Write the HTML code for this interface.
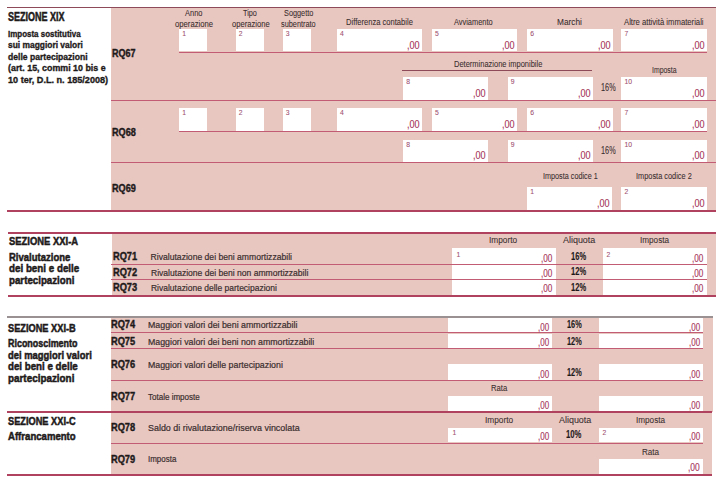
<!DOCTYPE html>
<html><head><meta charset="utf-8"><style>
html,body{margin:0;padding:0;background:#fff;width:719px;height:482px;overflow:hidden}
body>div{position:absolute}
.n,.b{font-family:'Liberation Sans', sans-serif;line-height:20px;white-space:nowrap;transform-origin:0 0}
.n{font-weight:normal;-webkit-text-stroke:0.2px}
.b{font-weight:bold;-webkit-text-stroke:0.4px}
</style></head><body>
<div style="left:111.00px;top:7.00px;width:605.00px;height:204.00px;background:#e9c7c1"></div>
<div style="left:7.00px;top:6.80px;width:709.00px;height:1.20px;background:#8e4a58"></div>
<div style="left:179.00px;top:28.70px;width:28.00px;height:22.80px;background:#ffffff"></div>
<div style="left:235.50px;top:28.70px;width:28.50px;height:22.80px;background:#ffffff"></div>
<div style="left:282.50px;top:28.70px;width:28.80px;height:22.80px;background:#ffffff"></div>
<div style="left:336.70px;top:28.70px;width:85.30px;height:22.80px;background:#ffffff"></div>
<div style="left:431.70px;top:28.70px;width:85.00px;height:22.80px;background:#ffffff"></div>
<div style="left:527.00px;top:28.70px;width:85.50px;height:22.80px;background:#ffffff"></div>
<div style="left:621.30px;top:28.70px;width:85.70px;height:22.80px;background:#ffffff"></div>
<div style="left:179.00px;top:52.00px;width:528.00px;height:1.30px;background:#c25c74"></div>
<div style="left:179.00px;top:107.50px;width:28.00px;height:23.00px;background:#ffffff"></div>
<div style="left:235.50px;top:107.50px;width:28.50px;height:23.00px;background:#ffffff"></div>
<div style="left:282.50px;top:107.50px;width:28.80px;height:23.00px;background:#ffffff"></div>
<div style="left:336.70px;top:107.50px;width:85.30px;height:23.00px;background:#ffffff"></div>
<div style="left:431.70px;top:107.50px;width:85.00px;height:23.00px;background:#ffffff"></div>
<div style="left:527.00px;top:107.50px;width:85.50px;height:23.00px;background:#ffffff"></div>
<div style="left:621.30px;top:107.50px;width:85.70px;height:23.00px;background:#ffffff"></div>
<div style="left:179.00px;top:131.00px;width:528.00px;height:1.30px;background:#c25c74"></div>
<div style="left:402.00px;top:70.30px;width:190.00px;height:1.00px;background:#8e4a58"></div>
<div style="left:403.00px;top:76.70px;width:85.00px;height:23.00px;background:#ffffff"></div>
<div style="left:507.50px;top:76.70px;width:85.00px;height:23.00px;background:#ffffff"></div>
<div style="left:621.30px;top:76.70px;width:85.70px;height:23.00px;background:#ffffff"></div>
<div style="left:403.00px;top:139.50px;width:85.00px;height:22.30px;background:#ffffff"></div>
<div style="left:507.50px;top:139.50px;width:85.00px;height:22.30px;background:#ffffff"></div>
<div style="left:621.30px;top:139.50px;width:85.70px;height:22.30px;background:#ffffff"></div>
<div style="left:111.00px;top:99.60px;width:605.00px;height:1.40px;background:#c25c74"></div>
<div style="left:111.00px;top:162.00px;width:605.00px;height:1.40px;background:#c25c74"></div>
<div style="left:527.00px;top:186.50px;width:85.00px;height:23.10px;background:#ffffff"></div>
<div style="left:621.40px;top:186.50px;width:85.60px;height:23.10px;background:#ffffff"></div>
<div style="left:7.00px;top:210.00px;width:709.00px;height:2.00px;background:#b0425f"></div>
<div style="left:112.00px;top:233.00px;width:604.00px;height:63.00px;background:#e9c7c1"></div>
<div style="left:8.00px;top:232.00px;width:708.00px;height:2.00px;background:#b0425f"></div>
<div style="left:452.00px;top:248.30px;width:103.80px;height:46.70px;background:#ffffff"></div>
<div style="left:602.50px;top:248.30px;width:104.20px;height:46.70px;background:#ffffff"></div>
<div style="left:111.00px;top:263.60px;width:596.00px;height:1.40px;background:#c25c74"></div>
<div style="left:111.00px;top:279.00px;width:596.00px;height:1.40px;background:#c25c74"></div>
<div style="left:8.00px;top:295.00px;width:708.00px;height:2.00px;background:#b0425f"></div>
<div style="left:111.00px;top:317.00px;width:601.50px;height:95.00px;background:#e9c7c1"></div>
<div style="left:7.00px;top:316.40px;width:705.50px;height:1.30px;background:#9a9292"></div>
<div style="left:448.30px;top:317.60px;width:103.40px;height:15.10px;background:#ffffff"></div>
<div style="left:598.70px;top:317.60px;width:104.30px;height:15.10px;background:#ffffff"></div>
<div style="left:448.30px;top:333.80px;width:103.40px;height:14.90px;background:#ffffff"></div>
<div style="left:598.70px;top:333.80px;width:104.30px;height:14.90px;background:#ffffff"></div>
<div style="left:448.30px;top:364.20px;width:103.40px;height:15.50px;background:#ffffff"></div>
<div style="left:598.70px;top:364.20px;width:104.30px;height:15.50px;background:#ffffff"></div>
<div style="left:448.30px;top:395.80px;width:103.40px;height:15.50px;background:#ffffff"></div>
<div style="left:598.70px;top:395.80px;width:104.30px;height:15.50px;background:#ffffff"></div>
<div style="left:111.00px;top:332.20px;width:592.00px;height:1.30px;background:#c25c74"></div>
<div style="left:111.00px;top:348.00px;width:592.00px;height:1.30px;background:#c25c74"></div>
<div style="left:111.00px;top:379.50px;width:592.00px;height:1.30px;background:#c25c74"></div>
<div style="left:111.00px;top:412.00px;width:601.00px;height:63.00px;background:#e9c7c1"></div>
<div style="left:7.00px;top:411.00px;width:705.00px;height:2.00px;background:#b0425f"></div>
<div style="left:448.30px;top:427.50px;width:103.40px;height:14.70px;background:#ffffff"></div>
<div style="left:598.70px;top:427.50px;width:104.30px;height:14.70px;background:#ffffff"></div>
<div style="left:111.00px;top:442.50px;width:592.00px;height:1.30px;background:#c25c74"></div>
<div style="left:598.70px;top:458.70px;width:104.30px;height:15.30px;background:#ffffff"></div>
<div style="left:7.00px;top:474.00px;width:705.00px;height:2.00px;background:#b0425f"></div>
<div class="b" style="left:7.90px;top:6.80px;font-size:12.3px;color:#1e1a1a;transform:scaleX(0.7321);-webkit-text-stroke:0.5px">SEZIONE XIX</div>
<div class="b" style="left:7.80px;top:23.60px;font-size:9.7px;color:#1e1a1a;transform:scaleX(0.8225);-webkit-text-stroke:0.35px">Imposta sostitutiva</div>
<div class="b" style="left:7.80px;top:35.15px;font-size:9.7px;color:#1e1a1a;transform:scaleX(0.8686);-webkit-text-stroke:0.35px">sui maggiori valori</div>
<div class="b" style="left:7.80px;top:46.70px;font-size:9.7px;color:#1e1a1a;transform:scaleX(0.8856);-webkit-text-stroke:0.35px">delle partecipazioni</div>
<div class="b" style="left:7.80px;top:58.25px;font-size:9.7px;color:#1e1a1a;transform:scaleX(0.9159);-webkit-text-stroke:0.35px">(art. 15, commi 10 bis e</div>
<div class="b" style="left:7.80px;top:69.80px;font-size:9.7px;color:#1e1a1a;transform:scaleX(0.9393);-webkit-text-stroke:0.35px">10 ter, D.L. n. 185/2008)</div>
<div class="b" style="left:112.00px;top:43.90px;font-size:10.2px;color:#1e1a1a;transform:scaleX(0.8815)">RQ67</div>
<div class="b" style="left:111.70px;top:122.50px;font-size:10.2px;color:#1e1a1a;transform:scaleX(0.8926)">RQ68</div>
<div class="b" style="left:111.50px;top:179.00px;font-size:10.2px;color:#1e1a1a;transform:scaleX(0.8926)">RQ69</div>
<div class="n" style="left:184.80px;top:3.10px;font-size:8.3px;color:#3b2f2f;transform:scaleX(0.9000);-webkit-text-stroke:0.08px">Anno</div>
<div class="n" style="left:174.80px;top:13.80px;font-size:8.3px;color:#3b2f2f;transform:scaleX(0.9268);-webkit-text-stroke:0.08px">operazione</div>
<div class="n" style="left:243.40px;top:3.10px;font-size:8.3px;color:#3b2f2f;transform:scaleX(0.8750);-webkit-text-stroke:0.08px">Tipo</div>
<div class="n" style="left:231.60px;top:13.80px;font-size:8.3px;color:#3b2f2f;transform:scaleX(0.9171);-webkit-text-stroke:0.08px">operazione</div>
<div class="n" style="left:283.60px;top:3.10px;font-size:8.3px;color:#3b2f2f;transform:scaleX(0.8824);-webkit-text-stroke:0.08px">Soggetto</div>
<div class="n" style="left:280.90px;top:13.80px;font-size:8.3px;color:#3b2f2f;transform:scaleX(0.8850);-webkit-text-stroke:0.08px">subentrato</div>
<div class="n" style="left:345.80px;top:11.70px;font-size:8.3px;color:#3b2f2f;transform:scaleX(0.9137);-webkit-text-stroke:0.08px">Differenza contabile</div>
<div class="n" style="left:454.00px;top:11.70px;font-size:8.3px;color:#3b2f2f;transform:scaleX(0.8932);-webkit-text-stroke:0.08px">Avviamento</div>
<div class="n" style="left:557.00px;top:11.70px;font-size:8.3px;color:#3b2f2f;-webkit-text-stroke:0.08px">Marchi</div>
<div class="n" style="left:624.20px;top:11.70px;font-size:8.3px;color:#3b2f2f;transform:scaleX(0.9279);-webkit-text-stroke:0.08px">Altre attività immateriali</div>
<div class="n" style="left:454.00px;top:53.70px;font-size:8.3px;color:#3b2f2f;transform:scaleX(0.9031);-webkit-text-stroke:0.08px">Determinazione imponibile</div>
<div class="n" style="left:651.70px;top:59.80px;font-size:8.3px;color:#3b2f2f;transform:scaleX(0.8333);-webkit-text-stroke:0.08px">Imposta</div>
<div class="n" style="left:543.00px;top:165.70px;font-size:8.3px;color:#3b2f2f;transform:scaleX(0.8730);-webkit-text-stroke:0.08px">Imposta codice 1</div>
<div class="n" style="left:636.30px;top:165.90px;font-size:8.3px;color:#3b2f2f;transform:scaleX(0.8889);-webkit-text-stroke:0.08px">Imposta codice 2</div>
<div class="n" style="left:182.20px;top:23.80px;font-size:6.8px;color:#a05070;-webkit-text-stroke:0.08px">1</div>
<div class="n" style="left:238.70px;top:23.80px;font-size:6.8px;color:#a05070;-webkit-text-stroke:0.08px">2</div>
<div class="n" style="left:285.70px;top:23.80px;font-size:6.8px;color:#a05070;-webkit-text-stroke:0.08px">3</div>
<div class="n" style="left:339.90px;top:23.80px;font-size:6.8px;color:#a05070;-webkit-text-stroke:0.08px">4</div>
<div class="n" style="left:407.20px;top:34.70px;font-size:10.6px;color:#a8385c;transform:scaleX(0.8533);-webkit-text-stroke:0.15px">,00</div>
<div class="n" style="left:434.90px;top:23.80px;font-size:6.8px;color:#a05070;-webkit-text-stroke:0.08px">5</div>
<div class="n" style="left:501.90px;top:34.70px;font-size:10.6px;color:#a8385c;transform:scaleX(0.8533);-webkit-text-stroke:0.15px">,00</div>
<div class="n" style="left:530.20px;top:23.80px;font-size:6.8px;color:#a05070;-webkit-text-stroke:0.08px">6</div>
<div class="n" style="left:597.70px;top:34.70px;font-size:10.6px;color:#a8385c;transform:scaleX(0.8533);-webkit-text-stroke:0.15px">,00</div>
<div class="n" style="left:624.50px;top:23.80px;font-size:6.8px;color:#a05070;-webkit-text-stroke:0.08px">7</div>
<div class="n" style="left:692.20px;top:34.70px;font-size:10.6px;color:#a8385c;transform:scaleX(0.8533);-webkit-text-stroke:0.15px">,00</div>
<div class="n" style="left:182.20px;top:102.60px;font-size:6.8px;color:#a05070;-webkit-text-stroke:0.08px">1</div>
<div class="n" style="left:238.70px;top:102.60px;font-size:6.8px;color:#a05070;-webkit-text-stroke:0.08px">2</div>
<div class="n" style="left:285.70px;top:102.60px;font-size:6.8px;color:#a05070;-webkit-text-stroke:0.08px">3</div>
<div class="n" style="left:339.90px;top:102.60px;font-size:6.8px;color:#a05070;-webkit-text-stroke:0.08px">4</div>
<div class="n" style="left:407.20px;top:113.70px;font-size:10.6px;color:#a8385c;transform:scaleX(0.8533);-webkit-text-stroke:0.15px">,00</div>
<div class="n" style="left:434.90px;top:102.60px;font-size:6.8px;color:#a05070;-webkit-text-stroke:0.08px">5</div>
<div class="n" style="left:501.90px;top:113.70px;font-size:10.6px;color:#a8385c;transform:scaleX(0.8533);-webkit-text-stroke:0.15px">,00</div>
<div class="n" style="left:530.20px;top:102.60px;font-size:6.8px;color:#a05070;-webkit-text-stroke:0.08px">6</div>
<div class="n" style="left:597.70px;top:113.70px;font-size:10.6px;color:#a8385c;transform:scaleX(0.8533);-webkit-text-stroke:0.15px">,00</div>
<div class="n" style="left:624.50px;top:102.60px;font-size:6.8px;color:#a05070;-webkit-text-stroke:0.08px">7</div>
<div class="n" style="left:692.20px;top:113.70px;font-size:10.6px;color:#a8385c;transform:scaleX(0.8533);-webkit-text-stroke:0.15px">,00</div>
<div class="n" style="left:406.20px;top:71.80px;font-size:6.8px;color:#a05070;-webkit-text-stroke:0.08px">8</div>
<div class="n" style="left:473.20px;top:82.90px;font-size:10.6px;color:#a8385c;transform:scaleX(0.8533);-webkit-text-stroke:0.15px">,00</div>
<div class="n" style="left:510.70px;top:71.80px;font-size:6.8px;color:#a05070;-webkit-text-stroke:0.08px">9</div>
<div class="n" style="left:577.70px;top:82.90px;font-size:10.6px;color:#a8385c;transform:scaleX(0.8533);-webkit-text-stroke:0.15px">,00</div>
<div class="n" style="left:624.50px;top:71.80px;font-size:6.8px;color:#a05070;-webkit-text-stroke:0.08px">10</div>
<div class="n" style="left:692.20px;top:82.90px;font-size:10.6px;color:#a8385c;transform:scaleX(0.8533);-webkit-text-stroke:0.15px">,00</div>
<div class="n" style="left:601.10px;top:76.80px;font-size:10.8px;color:#3b2f2f;transform:scaleX(0.6773);-webkit-text-stroke:0.1px">16%</div>
<div class="n" style="left:406.20px;top:134.60px;font-size:6.8px;color:#a05070;-webkit-text-stroke:0.08px">8</div>
<div class="n" style="left:473.20px;top:145.00px;font-size:10.6px;color:#a8385c;transform:scaleX(0.8533);-webkit-text-stroke:0.15px">,00</div>
<div class="n" style="left:510.70px;top:134.60px;font-size:6.8px;color:#a05070;-webkit-text-stroke:0.08px">9</div>
<div class="n" style="left:577.70px;top:145.00px;font-size:10.6px;color:#a8385c;transform:scaleX(0.8533);-webkit-text-stroke:0.15px">,00</div>
<div class="n" style="left:624.50px;top:134.60px;font-size:6.8px;color:#a05070;-webkit-text-stroke:0.08px">10</div>
<div class="n" style="left:692.20px;top:145.00px;font-size:10.6px;color:#a8385c;transform:scaleX(0.8533);-webkit-text-stroke:0.15px">,00</div>
<div class="n" style="left:601.10px;top:139.60px;font-size:10.8px;color:#3b2f2f;transform:scaleX(0.6773);-webkit-text-stroke:0.1px">16%</div>
<div class="n" style="left:530.20px;top:181.60px;font-size:6.8px;color:#a05070;-webkit-text-stroke:0.08px">1</div>
<div class="n" style="left:597.20px;top:192.80px;font-size:10.6px;color:#a8385c;transform:scaleX(0.8533);-webkit-text-stroke:0.15px">,00</div>
<div class="n" style="left:624.60px;top:181.60px;font-size:6.8px;color:#a05070;-webkit-text-stroke:0.08px">2</div>
<div class="n" style="left:692.20px;top:192.80px;font-size:10.6px;color:#a8385c;transform:scaleX(0.8533);-webkit-text-stroke:0.15px">,00</div>
<div class="b" style="left:9.00px;top:231.30px;font-size:11.3px;color:#1e1a1a;transform:scaleX(0.8349);-webkit-text-stroke:0.5px">SEZIONE XXI-A</div>
<div class="b" style="left:8.80px;top:246.80px;font-size:10.9px;color:#1e1a1a;transform:scaleX(0.8732);-webkit-text-stroke:0.5px">Rivalutazione</div>
<div class="b" style="left:8.80px;top:258.30px;font-size:10.9px;color:#1e1a1a;transform:scaleX(0.9000);-webkit-text-stroke:0.5px">dei beni e delle</div>
<div class="b" style="left:8.80px;top:269.80px;font-size:10.9px;color:#1e1a1a;transform:scaleX(0.8932);-webkit-text-stroke:0.5px">partecipazioni</div>
<div class="n" style="left:489.00px;top:230.00px;font-size:8.3px;color:#3b2f2f;-webkit-text-stroke:0.08px">Importo</div>
<div class="n" style="left:563.00px;top:230.00px;font-size:8.3px;color:#3b2f2f;transform:scaleX(1.0767);-webkit-text-stroke:0.08px">Aliquota</div>
<div class="n" style="left:639.70px;top:230.00px;font-size:8.3px;color:#3b2f2f;transform:scaleX(0.9833);-webkit-text-stroke:0.08px">Imposta</div>
<div class="n" style="left:456.50px;top:244.60px;font-size:6.8px;color:#a05070;-webkit-text-stroke:0.08px">1</div>
<div class="n" style="left:606.50px;top:244.60px;font-size:6.8px;color:#a05070;-webkit-text-stroke:0.08px">2</div>
<div class="b" style="left:113.00px;top:247.30px;font-size:10.2px;color:#1e1a1a;transform:scaleX(0.9074)">RQ71</div>
<div class="n" style="left:150.60px;top:247.30px;font-size:8.6px;color:#3b2f2f">Rivalutazione dei beni ammortizzabili</div>
<div class="n" style="left:541.00px;top:248.50px;font-size:10.3px;color:#a8385c;transform:scaleX(0.7933);-webkit-text-stroke:0.15px">,00</div>
<div class="n" style="left:692.10px;top:248.50px;font-size:10.3px;color:#a8385c;transform:scaleX(0.7933);-webkit-text-stroke:0.15px">,00</div>
<div class="b" style="left:570.80px;top:246.10px;font-size:10.8px;color:#1e1a1a;transform:scaleX(0.7000);-webkit-text-stroke:0.12px">16%</div>
<div class="b" style="left:113.00px;top:262.60px;font-size:10.2px;color:#1e1a1a;transform:scaleX(0.9074)">RQ72</div>
<div class="n" style="left:150.60px;top:262.60px;font-size:8.6px;color:#3b2f2f;transform:scaleX(0.9950)">Rivalutazione dei beni non ammortizzabili</div>
<div class="n" style="left:541.00px;top:263.80px;font-size:10.3px;color:#a8385c;transform:scaleX(0.7933);-webkit-text-stroke:0.15px">,00</div>
<div class="n" style="left:692.10px;top:263.80px;font-size:10.3px;color:#a8385c;transform:scaleX(0.7933);-webkit-text-stroke:0.15px">,00</div>
<div class="b" style="left:570.80px;top:261.40px;font-size:10.8px;color:#1e1a1a;transform:scaleX(0.7000);-webkit-text-stroke:0.12px">12%</div>
<div class="b" style="left:113.00px;top:277.90px;font-size:10.2px;color:#1e1a1a;transform:scaleX(0.9074)">RQ73</div>
<div class="n" style="left:150.60px;top:277.90px;font-size:8.6px;color:#3b2f2f;transform:scaleX(0.9867)">Rivalutazione delle partecipazioni</div>
<div class="n" style="left:541.00px;top:279.10px;font-size:10.3px;color:#a8385c;transform:scaleX(0.7933);-webkit-text-stroke:0.15px">,00</div>
<div class="n" style="left:692.10px;top:279.10px;font-size:10.3px;color:#a8385c;transform:scaleX(0.7933);-webkit-text-stroke:0.15px">,00</div>
<div class="b" style="left:570.80px;top:276.70px;font-size:10.8px;color:#1e1a1a;transform:scaleX(0.7000);-webkit-text-stroke:0.12px">12%</div>
<div class="b" style="left:8.00px;top:317.70px;font-size:11.3px;color:#1e1a1a;transform:scaleX(0.8169);-webkit-text-stroke:0.5px">SEZIONE XXI-B</div>
<div class="b" style="left:7.80px;top:333.20px;font-size:10.9px;color:#1e1a1a;transform:scaleX(0.8200);-webkit-text-stroke:0.5px">Riconoscimento</div>
<div class="b" style="left:7.80px;top:344.80px;font-size:10.9px;color:#1e1a1a;transform:scaleX(0.8649);-webkit-text-stroke:0.5px">dei maggiori valori</div>
<div class="b" style="left:7.80px;top:356.40px;font-size:10.9px;color:#1e1a1a;transform:scaleX(0.8936);-webkit-text-stroke:0.5px">dei beni e delle</div>
<div class="b" style="left:7.80px;top:368.00px;font-size:10.9px;color:#1e1a1a;transform:scaleX(0.9068);-webkit-text-stroke:0.5px">partecipazioni</div>
<div class="b" style="left:111.30px;top:314.90px;font-size:10.2px;color:#1e1a1a;transform:scaleX(0.9074)">RQ74</div>
<div class="n" style="left:148.30px;top:314.90px;font-size:8.6px;color:#3b2f2f;transform:scaleX(1.0253)">Maggiori valori dei beni ammortizzabili</div>
<div class="n" style="left:537.60px;top:316.70px;font-size:10.5px;color:#a8385c;transform:scaleX(0.7600);-webkit-text-stroke:0.15px">,00</div>
<div class="n" style="left:688.80px;top:316.70px;font-size:10.5px;color:#a8385c;transform:scaleX(0.7600);-webkit-text-stroke:0.15px">,00</div>
<div class="b" style="left:567.00px;top:314.10px;font-size:10.8px;color:#1e1a1a;transform:scaleX(0.6818);-webkit-text-stroke:0.12px">16%</div>
<div class="b" style="left:111.30px;top:331.60px;font-size:10.2px;color:#1e1a1a;transform:scaleX(0.9074)">RQ75</div>
<div class="n" style="left:148.30px;top:331.60px;font-size:8.6px;color:#3b2f2f;transform:scaleX(1.0239)">Maggiori valori dei beni non ammortizzabili</div>
<div class="n" style="left:537.60px;top:332.40px;font-size:10.5px;color:#a8385c;transform:scaleX(0.7600);-webkit-text-stroke:0.15px">,00</div>
<div class="n" style="left:688.80px;top:332.40px;font-size:10.5px;color:#a8385c;transform:scaleX(0.7600);-webkit-text-stroke:0.15px">,00</div>
<div class="b" style="left:567.00px;top:330.80px;font-size:10.8px;color:#1e1a1a;transform:scaleX(0.6818);-webkit-text-stroke:0.12px">12%</div>
<div class="b" style="left:111.30px;top:355.10px;font-size:10.2px;color:#1e1a1a;transform:scaleX(0.9074)">RQ76</div>
<div class="n" style="left:148.30px;top:355.10px;font-size:8.6px;color:#3b2f2f;transform:scaleX(1.0227)">Maggiori valori delle partecipazioni</div>
<div class="n" style="left:537.60px;top:363.60px;font-size:10.5px;color:#a8385c;transform:scaleX(0.7600);-webkit-text-stroke:0.15px">,00</div>
<div class="n" style="left:688.80px;top:363.60px;font-size:10.5px;color:#a8385c;transform:scaleX(0.7600);-webkit-text-stroke:0.15px">,00</div>
<div class="b" style="left:567.00px;top:361.60px;font-size:10.8px;color:#1e1a1a;transform:scaleX(0.6818);-webkit-text-stroke:0.12px">12%</div>
<div class="b" style="left:111.30px;top:386.50px;font-size:10.2px;color:#1e1a1a;transform:scaleX(0.9074)">RQ77</div>
<div class="n" style="left:148.30px;top:386.50px;font-size:8.6px;color:#3b2f2f;transform:scaleX(0.9339)">Totale imposte</div>
<div class="n" style="left:537.60px;top:395.20px;font-size:10.5px;color:#a8385c;transform:scaleX(0.7600);-webkit-text-stroke:0.15px">,00</div>
<div class="n" style="left:688.80px;top:395.20px;font-size:10.5px;color:#a8385c;transform:scaleX(0.7600);-webkit-text-stroke:0.15px">,00</div>
<div class="n" style="left:491.30px;top:378.30px;font-size:8.3px;color:#3b2f2f;transform:scaleX(0.9278);-webkit-text-stroke:0.08px">Rata</div>
<div class="b" style="left:8.00px;top:411.00px;font-size:11.3px;color:#1e1a1a;transform:scaleX(0.8169);-webkit-text-stroke:0.5px">SEZIONE XXI-C</div>
<div class="b" style="left:8.00px;top:426.00px;font-size:10.9px;color:#1e1a1a;transform:scaleX(0.8805);-webkit-text-stroke:0.5px">Affrancamento</div>
<div class="n" style="left:485.00px;top:409.50px;font-size:8.3px;color:#3b2f2f;-webkit-text-stroke:0.08px">Importo</div>
<div class="n" style="left:559.00px;top:409.50px;font-size:8.3px;color:#3b2f2f;transform:scaleX(1.0767);-webkit-text-stroke:0.08px">Aliquota</div>
<div class="n" style="left:635.70px;top:410.20px;font-size:8.3px;color:#3b2f2f;transform:scaleX(0.9833);-webkit-text-stroke:0.08px">Imposta</div>
<div class="n" style="left:452.50px;top:422.80px;font-size:6.8px;color:#a05070;-webkit-text-stroke:0.08px">1</div>
<div class="n" style="left:602.50px;top:422.80px;font-size:6.8px;color:#a05070;-webkit-text-stroke:0.08px">2</div>
<div class="b" style="left:111.30px;top:418.30px;font-size:10.2px;color:#1e1a1a;transform:scaleX(0.9074)">RQ78</div>
<div class="n" style="left:148.30px;top:417.90px;font-size:8.6px;color:#3b2f2f;transform:scaleX(1.0374)">Saldo di rivalutazione/riserva vincolata</div>
<div class="n" style="left:537.50px;top:425.90px;font-size:10.5px;color:#a8385c;transform:scaleX(0.7667);-webkit-text-stroke:0.15px">,00</div>
<div class="n" style="left:688.70px;top:425.90px;font-size:10.5px;color:#a8385c;transform:scaleX(0.7667);-webkit-text-stroke:0.15px">,00</div>
<div class="b" style="left:566.30px;top:424.30px;font-size:10.8px;color:#1e1a1a;transform:scaleX(0.7136);-webkit-text-stroke:0.12px">10%</div>
<div class="b" style="left:111.30px;top:449.50px;font-size:10.2px;color:#1e1a1a;transform:scaleX(0.9074)">RQ79</div>
<div class="n" style="left:148.30px;top:448.70px;font-size:8.6px;color:#3b2f2f;transform:scaleX(0.9258)">Imposta</div>
<div class="n" style="left:641.70px;top:441.80px;font-size:8.3px;color:#3b2f2f;transform:scaleX(0.9722);-webkit-text-stroke:0.08px">Rata</div>
<div class="n" style="left:688.10px;top:456.50px;font-size:10.6px;color:#a8385c;transform:scaleX(0.8000);-webkit-text-stroke:0.15px">,00</div>
</body></html>
